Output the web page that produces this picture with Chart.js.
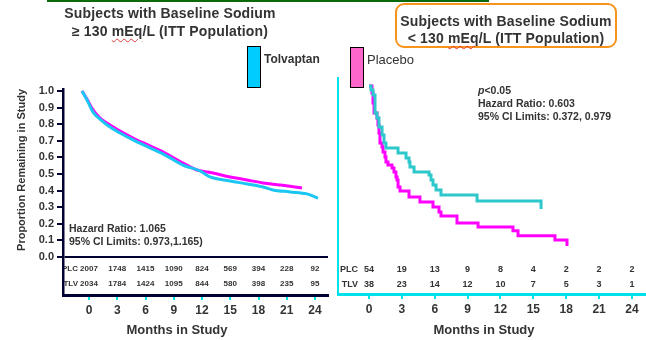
<!DOCTYPE html>
<html>
<head>
<meta charset="utf-8">
<title>Time remaining in study by baseline sodium</title>
<script src="https://cdn.jsdelivr.net/npm/chart.js@4.4.1/dist/chart.umd.min.js"></script>
<style>
  html, body { margin: 0; padding: 0; background: #fff; }
  body { width: 646px; height: 340px; position: relative; overflow: hidden;
         font-family: "Liberation Sans", Arial, sans-serif; color: #333; }
  canvas { position: absolute; left: 0; top: 0; }
  .abs { position: absolute; white-space: nowrap; }
  .title { font-weight: bold; font-size: 14px; letter-spacing: 0.15px; text-align: center; }
  .spell { text-decoration: underline wavy #e03a3a; text-decoration-thickness: 1px; text-underline-offset: 2px; }
  .note { font-weight: bold; font-size: 10.5px; line-height: 13px; }
  .axis-title { font-weight: bold; font-size: 13px; line-height: 15px; transform: translateX(-50%); }
  .swatch { position: absolute; box-sizing: border-box; border: 1.5px solid #000; }
</style>
</head>
<body>
<canvas id="chart-high" width="646" height="340"></canvas>
<canvas id="chart-low" width="646" height="340"></canvas>

<div class="abs" style="left:47px;top:0;width:442px;height:2px;background:#0a6a0a"></div>

<div class="abs title" style="left:40px;top:4px;width:260px;line-height:18px">Subjects with Baseline Sodium<br>&ge; 130 <span class="spell">mEq</span>/L (ITT Population)</div>
<div class="abs" style="left:395px;top:3px;width:222px;height:45px;box-sizing:border-box;border:2.5px solid #f7941e;border-radius:9px"></div>
<div class="abs title" style="left:395px;top:12.6px;width:222px;line-height:17px">Subjects with Baseline Sodium<br>&lt; 130 <span class="spell">mEq</span>/L (ITT Population)</div>

<div class="swatch" style="left:247px;top:46px;width:14px;height:42px;background:#00ccff"></div>
<div class="abs" style="left:264px;top:52px;font-size:12px;line-height:14px;font-weight:bold">Tolvaptan</div>
<div class="swatch" style="left:350px;top:47px;width:14px;height:41px;background:#ff66cc"></div>
<div class="abs" style="left:367px;top:51.5px;font-size:13px;line-height:15px">Placebo</div>

<div class="abs note" style="left:69px;top:221.5px">Hazard Ratio: 1.065<br>95% CI Limits: 0.973,1.165)</div>
<div class="abs note" style="left:478px;top:83.5px"><i>p</i>&lt;0.05<br>Hazard Ratio: 0.603<br>95% CI Limits: 0.372, 0.979</div>

<div class="abs axis-title" style="left:177px;top:321.5px">Months in Study</div>
<div class="abs axis-title" style="left:484px;top:321.5px">Months in Study</div>

<script>
// Months where at-risk counts are reported (also the x tick marks)
const RISK_MONTHS = [0, 3, 6, 9, 12, 15, 18, 21, 24];
const Y_TICKS = [0, 0.1, 0.2, 0.3, 0.4, 0.5, 0.6, 0.7, 0.8, 0.9, 1.0];

// Baseline sodium >= 130 mEq/L
const HIGH_TLV_MONTHS = [0, 0.64, 1.17, 1.91, 2.97, 4.04, 5.42, 7.22, 9.02, 10.72, 12.53, 13.59, 15.72, 17.52, 19.22, 20.28, 22.09, 23.89, 25.06];
const HIGH_TLV_SURV = [1.0, 0.934, 0.873, 0.831, 0.783, 0.747, 0.705, 0.657, 0.608, 0.554, 0.518, 0.482, 0.458, 0.44, 0.422, 0.404, 0.392, 0.38, 0.355];
const HIGH_PLC_MONTHS = [0, 0.64, 1.17, 1.91, 2.97, 4.04, 5.42, 7.22, 9.02, 10.72, 12.21, 13.91, 15.72, 17.52, 19.22, 21.03, 23.36];
const HIGH_PLC_SURV = [1.0, 0.94, 0.886, 0.837, 0.795, 0.759, 0.717, 0.669, 0.62, 0.566, 0.524, 0.506, 0.482, 0.464, 0.446, 0.434, 0.416];
const HIGH_AT_RISK_PLC = [2007, 1748, 1415, 1090, 824, 569, 394, 228, 92];
const HIGH_AT_RISK_TLV = [2034, 1784, 1424, 1095, 844, 580, 398, 235, 95];

// Baseline sodium < 130 mEq/L (step curves, one point per drop)
const LOW_TLV_MONTHS = [0, 0.18, 0.37, 0.55, 0.73, 0.91, 1.19, 1.37, 1.55, 2.65, 3.38, 3.65, 3.74, 4.11, 5.48, 5.66, 5.84, 6.12, 6.57, 9.86, 15.7];
const LOW_TLV_SURV = [1.0, 0.976, 0.946, 0.837, 0.807, 0.753, 0.705, 0.657, 0.627, 0.596, 0.566, 0.542, 0.512, 0.482, 0.464, 0.434, 0.404, 0.373, 0.343, 0.307, 0.259];
const LOW_PLC_MONTHS = [0, 0.27, 0.37, 0.46, 0.73, 0.82, 0.91, 1.0, 1.19, 1.28, 1.46, 1.55, 1.73, 2.1, 2.28, 2.46, 2.56, 2.65, 2.83, 3.65, 4.65, 5.84, 6.39, 6.57, 8.03, 9.95, 13.14, 13.6, 16.97, 18.07];
const LOW_PLC_SURV = [1.0, 0.958, 0.898, 0.837, 0.807, 0.765, 0.717, 0.657, 0.633, 0.602, 0.572, 0.542, 0.524, 0.506, 0.482, 0.452, 0.434, 0.392, 0.367, 0.331, 0.301, 0.271, 0.241, 0.217, 0.175, 0.151, 0.128, 0.098, 0.072, 0.036];
const LOW_AT_RISK_PLC = [54, 19, 13, 9, 8, 4, 2, 2, 2];
const LOW_AT_RISK_TLV = [38, 23, 14, 12, 10, 7, 5, 3, 1];

const COLORS = {
    tlv: '#1cc6f2',
    tlvLow: '#2cc8cc',
    plc: '#ff00ff',
    navy: '#000033',
    cyan: '#00e2ea',
    text: '#333333'
};
const FONT = '"Liberation Sans", Arial, sans-serif';

Chart.defaults.font.family = FONT;

function toPoints(xs, ys) {
    return xs.map((x, i) => ({ x, y: ys[i] }));
}

// numbers-at-risk rows, drawn under the axes so the row labels tuck behind the y axis line
function riskTable(rows, size) {
    return {
        id: 'riskTable',
        beforeDraw(chart) {
            const { ctx } = chart;
            const x = chart.scales.x;
            const y = chart.scales.y;
            const x0 = x.getPixelForValue(RISK_MONTHS[0]);
            ctx.save();
            ctx.fillStyle = COLORS.text;
            ctx.font = `bold ${size}px ${FONT}`;
            ctx.textBaseline = 'middle';
            rows.forEach((row) => {
                const py = y.getPixelForValue(row.at);
                ctx.textAlign = 'right';
                ctx.fillText(row.label, x0 - 11, py);
                ctx.textAlign = 'center';
                row.counts.forEach((n, i) => ctx.fillText(String(n), x.getPixelForValue(RISK_MONTHS[i]), py));
            });
            ctx.restore();
        }
    };
}

function monthAxis(min, max, borderColor, borderWidth, height) {
    return {
        type: 'linear',
        min,
        max,
        afterBuildTicks: (s) => { s.ticks = RISK_MONTHS.map((value) => ({ value })); },
        afterFit: (s) => { s.height = height; },
        border: { color: borderColor, width: borderWidth },
        grid: { drawOnChartArea: false, color: COLORS.cyan, lineWidth: 2, tickLength: 5 },
        ticks: {
            color: COLORS.text,
            font: { size: 12, weight: 'bold' },
            padding: 3,
            maxRotation: 0,
            autoSkip: false
        }
    };
}

function curve(label, points, color, extra) {
    return {
        label,
        data: points,
        borderColor: color,
        backgroundColor: color,
        borderWidth: 3,
        pointRadius: 0,
        fill: false,
        borderCapStyle: 'butt',
        ...extra
    };
}

const common = {
    responsive: false,
    animation: false,
    devicePixelRatio: 1,
    events: [],
    plugins: { legend: { display: false }, tooltip: { enabled: false } }
};

// Left panel: sodium >= 130
new Chart(document.getElementById('chart-high'), {
    type: 'line',
    data: {
        datasets: [
            curve('Tolvaptan', toPoints(HIGH_TLV_MONTHS, HIGH_TLV_SURV), COLORS.tlv, { xAxisID: 'xk', cubicInterpolationMode: 'monotone' }),
            curve('Placebo', toPoints(HIGH_PLC_MONTHS, HIGH_PLC_SURV), COLORS.plc, { xAxisID: 'xk', cubicInterpolationMode: 'monotone' })
        ]
    },
    options: {
        ...common,
        layout: { padding: { left: 0, top: 89, right: 318, bottom: 0 } },
        scales: {
            x: monthAxis(-2.761, 25.38, COLORS.navy, 3, 45),
            // the KM curves start a little left of the month-0 tick
            xk: { type: 'linear', display: false, min: -2.018, max: 26.12 },
            y: {
                min: -0.229,
                max: 1.012,
                afterBuildTicks: (s) => { s.ticks = Y_TICKS.map((value) => ({ value })); },
                afterFit: (s) => { s.width = 63; },
                border: { color: COLORS.navy, width: 2.5 },
                grid: {
                    color: (c) => (c.tick && c.tick.value === 0 ? COLORS.navy : 'rgba(0,0,0,0)'),
                    tickColor: COLORS.navy,
                    lineWidth: 2,
                    tickLength: 6
                },
                ticks: {
                    color: COLORS.text,
                    font: { size: 11, weight: 'bold' },
                    padding: 3,
                    callback: (v) => Number(v).toFixed(1)
                },
                title: {
                    display: true,
                    text: 'Proportion Remaining in Study',
                    align: 'end',
                    color: COLORS.text,
                    font: { size: 11, weight: 'bold' },
                    padding: { top: 15, bottom: 0 }
                }
            }
        }
    },
    plugins: [riskTable([
        { label: 'PLC', at: -0.072, counts: HIGH_AT_RISK_PLC },
        { label: 'TLV', at: -0.163, counts: HIGH_AT_RISK_TLV }
    ], 8)]
});

// Right panel: sodium < 130
new Chart(document.getElementById('chart-low'), {
    type: 'line',
    data: {
        datasets: [
            curve('Tolvaptan', toPoints(LOW_TLV_MONTHS, LOW_TLV_SURV), COLORS.tlvLow, { stepped: true }),
            curve('Placebo', toPoints(LOW_PLC_MONTHS, LOW_PLC_SURV), COLORS.plc, { stepped: true })
        ]
    },
    options: {
        ...common,
        layout: { padding: { left: 0, top: 78, right: 0, bottom: 0 } },
        scales: {
            x: monthAxis(-2.829, 25.28, COLORS.cyan, 3, 46),
            y: {
                min: -0.253,
                max: 1.048,
                afterFit: (s) => { s.width = 338; },
                border: { color: COLORS.cyan, width: 2 },
                grid: { display: false },
                ticks: { display: false }
            }
        }
    },
    plugins: [riskTable([
        { label: 'PLC', at: -0.108, counts: LOW_AT_RISK_PLC },
        { label: 'TLV', at: -0.196, counts: LOW_AT_RISK_TLV }
    ], 9)]
});
</script>
</body>
</html>
